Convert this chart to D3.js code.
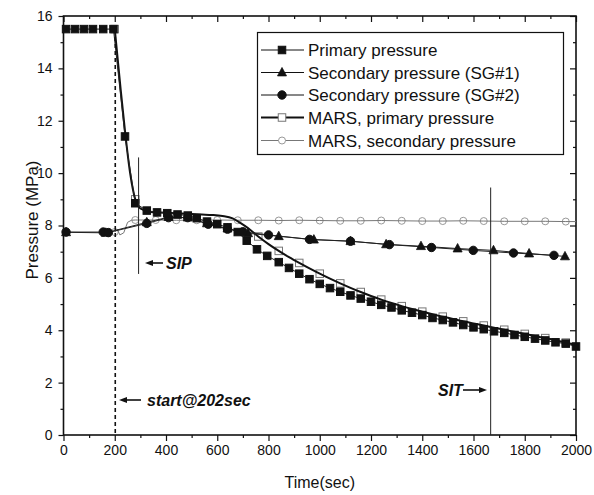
<!DOCTYPE html>
<html>
<head>
<meta charset="utf-8">
<script src="https://cdn.jsdelivr.net/npm/d3@7"></script>
<style>
  html, body { margin: 0; padding: 0; background: #fff; }
  svg { display: block; font-family: "Liberation Sans", Arial, sans-serif; }
</style>
</head>
<body>
<svg id="chart" width="594" height="495"></svg>
<script>
// Measured primary-side pressure (filled squares)
const primaryT = [10,45,80,115,155,195,240,280,325,365,405,445,485,520,560,600,640,680,715,755,795,840,880,920,960,1000,1040,1080,1120,1160,1200,1240,1280,1320,1360,1400,1440,1480,1520,1560,1600,1640,1680,1720,1760,1800,1840,1880,1920,1960,2000];
const primaryP = [15.5,15.5,15.5,15.5,15.5,15.5,11.4,8.85,8.57,8.5,8.47,8.42,8.38,8.28,8.15,8.05,7.93,7.75,7.42,7.09,6.84,6.6,6.38,6.16,5.95,5.77,5.61,5.47,5.33,5.21,5.09,4.97,4.87,4.76,4.67,4.58,4.47,4.39,4.30,4.20,4.11,4.04,3.96,3.90,3.82,3.75,3.68,3.61,3.54,3.49,3.38];

// Measured steam generator pressures
const sg1T = [10,165,325,410,485,560,640,720,840,977,1120,1259,1395,1538,1678,1817,1957];
const sg1P = [7.74,7.72,8.12,8.32,8.3,8.08,7.88,7.7,7.59,7.46,7.4,7.28,7.21,7.12,7.05,6.93,6.82];
const sg2T = [10,155,175,325,410,485,565,640,700,800,960,1120,1272,1436,1599,1756,1914];
const sg2P = [7.75,7.75,7.73,8.08,8.3,8.3,8.05,7.86,7.76,7.64,7.47,7.4,7.27,7.16,7.05,6.95,6.86];

// MARS calculation, primary pressure
const marsPT = [200,220,240,260,280,300,340,380,420,460,500,540,580,620,660,690,720,760,800,840,880,920,960,1000,1040,1080,1120,1160,1200,1240,1280,1320,1360,1400,1440,1480,1520,1560,1600,1640,1680,1720,1760,1800,1840,1880,1920,1960,2000];
const marsPP = [15.5,13.5,11.6,10.0,9.0,8.65,8.52,8.5,8.48,8.46,8.44,8.42,8.4,8.36,8.27,8.1,7.9,7.58,7.29,7.03,6.79,6.57,6.36,6.16,5.97,5.79,5.62,5.46,5.31,5.17,5.04,4.92,4.81,4.71,4.61,4.52,4.43,4.34,4.26,4.18,4.10,4.02,3.94,3.86,3.78,3.70,3.62,3.53,3.44];

// MARS calculation, secondary pressure
const marsST = [200,210,220,235,250,265,280,360,440,520,600,680,760,840,920,1000,1080,1160,1240,1320,1400,1480,1560,1640,1720,1800,1880,1960,2000];
const marsSP = [7.75,7.85,7.64,7.72,8.12,8.2,8.21,8.21,8.2,8.2,8.21,8.2,8.2,8.19,8.2,8.19,8.18,8.18,8.19,8.18,8.17,8.17,8.18,8.17,8.16,8.16,8.16,8.15,8.15];

const xTicks = [0,200,400,600,800,1000,1200,1400,1600,1800,2000];
const yTicks = [0,2,4,6,8,10,12,14,16];

const legendLabels = ["Primary pressure","Secondary pressure (SG#1)","Secondary pressure (SG#2)","MARS, primary pressure","MARS, secondary pressure"];

const svg = d3.select("#chart");
const L = 63.5, R = 576, T = 16, B = 435;
const x = d3.scaleLinear().domain([0, 2000]).range([L, R]);
const y = d3.scaleLinear().domain([0, 16]).range([B, T]);

const zip = (ts, ps) => ts.map((t, i) => ({t, p: ps[i]}));
const line = d3.line().x(d => x(d.t)).y(d => y(d.p));
const smooth = d3.line().x(d => x(d.t)).y(d => y(d.p)).curve(d3.curveMonotoneX);

const xMinor = d3.range(100, 2000, 200);
const yMinor = d3.range(1, 16, 2);

// axes: ticks outward on bottom/left, inward mirrors on top/right
function styleAxis(g) {
  g.select(".domain").remove();
  g.selectAll("line").attr("stroke", "#111").attr("stroke-width", 1.2);
  g.selectAll("text").attr("fill", "#111").style("font-size", "14px").style("font-family", "Liberation Sans, Arial, sans-serif");
}
svg.append("g").attr("transform", `translate(0,${B})`)
  .call(d3.axisBottom(x).tickValues(xTicks).tickSize(6).tickPadding(4).tickFormat(d3.format("d"))).call(styleAxis);
svg.append("g").attr("transform", `translate(0,${B})`)
  .call(d3.axisBottom(x).tickValues(xMinor).tickSize(3).tickFormat("")).call(styleAxis);
svg.append("g").attr("transform", `translate(${L},0)`)
  .call(d3.axisLeft(y).tickValues(yTicks).tickSize(5).tickPadding(6).tickFormat(d3.format("d"))).call(styleAxis);
svg.append("g").attr("transform", `translate(${L},0)`)
  .call(d3.axisLeft(y).tickValues(yMinor).tickSize(3).tickFormat("")).call(styleAxis);
svg.append("g").attr("transform", `translate(0,${T})`)
  .call(d3.axisTop(x).tickValues(xTicks).tickSize(-6).tickFormat("")).call(styleAxis);
svg.append("g").attr("transform", `translate(0,${T})`)
  .call(d3.axisTop(x).tickValues(xMinor).tickSize(-3).tickFormat("")).call(styleAxis);
svg.append("g").attr("transform", `translate(${R},0)`)
  .call(d3.axisRight(y).tickValues(yTicks).tickSize(-6).tickFormat("")).call(styleAxis);
svg.append("g").attr("transform", `translate(${R},0)`)
  .call(d3.axisRight(y).tickValues(yMinor).tickSize(-3).tickFormat("")).call(styleAxis);

// plot frame
svg.append("rect").attr("x", L).attr("y", T).attr("width", R - L).attr("height", B - T)
  .attr("fill", "none").attr("stroke", "#111").attr("stroke-width", 1.6);

// axis titles
svg.append("text").attr("x", (L + R) / 2).attr("y", 488).attr("text-anchor", "middle")
  .style("font-size", "16px").attr("fill", "#111").text("Time(sec)");
svg.append("text").attr("transform", "translate(38,220) rotate(-90)").attr("text-anchor", "middle")
  .style("font-size", "17px").attr("fill", "#111").text("Pressure (MPa)");

const plot = svg.append("g");

// marker helpers
function square(g, cx, cy, s, fill, stroke) {
  g.append("rect").attr("x", cx - s / 2).attr("y", cy - s / 2).attr("width", s).attr("height", s)
    .attr("fill", fill).attr("stroke", stroke).attr("stroke-width", 1);
}
function circle(g, cx, cy, r, fill, stroke) {
  g.append("circle").attr("cx", cx).attr("cy", cy).attr("r", r).attr("fill", fill).attr("stroke", stroke).attr("stroke-width", 1);
}
function triangle(g, cx, cy, s) {
  const h = s * 0.9;
  g.append("path").attr("d", `M${cx},${cy - h * 0.62} L${cx + s / 2},${cy + h * 0.42} L${cx - s / 2},${cy + h * 0.42} Z`)
    .attr("fill", "#111").attr("stroke", "#111").attr("stroke-width", 0.8);
}
const onMarkerGrid = d => (d.t - 200) % 80 === 0;

// MARS secondary
const marsS = zip(marsST, marsSP);
marsS.filter(onMarkerGrid).forEach(d => circle(plot, x(d.t), y(d.p), 3.5, "#fff", "#999"));
plot.append("path").datum(marsS).attr("d", line).attr("fill", "none").attr("stroke", "#777").attr("stroke-width", 1);

// MARS primary: hollow markers beneath a continuous thick curve
const marsP = zip(marsPT, marsPP);
marsP.filter(onMarkerGrid).forEach(d => square(plot, x(d.t), y(d.p), 7.5, "#fff", "#777"));
plot.append("path").datum(marsP).attr("d", smooth).attr("fill", "none").attr("stroke", "#111").attr("stroke-width", 2);

// measured SG pressures
const sg1 = zip(sg1T, sg1P), sg2 = zip(sg2T, sg2P);
plot.append("path").datum(sg1).attr("d", line).attr("fill", "none").attr("stroke", "#222").attr("stroke-width", 1);
plot.append("path").datum(sg2).attr("d", line).attr("fill", "none").attr("stroke", "#222").attr("stroke-width", 1);
sg1.forEach(d => triangle(plot, x(d.t), y(d.p), 9));
sg2.forEach(d => circle(plot, x(d.t), y(d.p), 4.2, "#111", "#111"));

// measured primary pressure
const prim = zip(primaryT, primaryP);
plot.append("path").datum(prim).attr("d", line).attr("fill", "none").attr("stroke", "#222").attr("stroke-width", 1);
prim.forEach(d => square(plot, x(d.t), y(d.p), 7.5, "#111", "#111"));

// event markers
plot.append("line").attr("x1", x(202)).attr("x2", x(202)).attr("y1", y(15.2)).attr("y2", y(0))
  .attr("stroke", "#111").attr("stroke-width", 1.6).attr("stroke-dasharray", "4,3");
plot.append("line").attr("x1", x(293)).attr("x2", x(293)).attr("y1", y(10.6)).attr("y2", y(6.15))
  .attr("stroke", "#222").attr("stroke-width", 1);
plot.append("line").attr("x1", x(1667)).attr("x2", x(1667)).attr("y1", y(9.45)).attr("y2", y(0))
  .attr("stroke", "#222").attr("stroke-width", 1);

// annotations
function arrow(x1, x2, yy) {
  const dir = Math.sign(x2 - x1);
  svg.append("line").attr("x1", x1).attr("x2", x2 - dir * 5).attr("y1", yy).attr("y2", yy)
    .attr("stroke", "#111").attr("stroke-width", 1.6);
  svg.append("path").attr("d", `M${x2},${yy} L${x2 - dir * 8},${yy - 3} L${x2 - dir * 8},${yy + 3} Z`).attr("fill", "#111");
}
const ann = (tx, ty, s) => svg.append("text").attr("x", tx).attr("y", ty).attr("fill", "#111")
  .style("font-size", "16px").style("font-weight", "bold").style("font-style", "italic").text(s);
arrow(163, 145, 263); ann(166, 269, "SIP");
arrow(141, 119, 400); ann(147, 406, "start@202sec");
arrow(463, 487, 390); ann(438, 396, "SIT");

// legend
const lg = svg.append("g");
lg.append("rect").attr("x", 257.5).attr("y", 32.5).attr("width", 306).attr("height", 122)
  .attr("fill", "#fff").attr("stroke", "#111").attr("stroke-width", 1.2);
const rowsY = [50, 72.5, 95, 117.5, 140.5];
legendLabels.forEach((lab, i) => {
  const yy = rowsY[i];
  const isMarsP = i === 3, isMarsS = i === 4;
  lg.append("line").attr("x1", 261).attr("x2", 304).attr("y1", yy).attr("y2", yy)
    .attr("stroke", isMarsS ? "#777" : "#111").attr("stroke-width", isMarsP ? 2 : 1);
  if (i === 0) square(lg, 282, yy, 7.5, "#111", "#111");
  if (i === 1) triangle(lg, 282, yy, 9);
  if (i === 2) circle(lg, 282, yy, 4.2, "#111", "#111");
  if (isMarsP) square(lg, 282, yy, 7.5, "#fff", "#777");
  if (isMarsS) circle(lg, 282, yy, 3.5, "#fff", "#999");
  lg.append("text").attr("x", 308).attr("y", yy + 6).attr("fill", "#111").style("font-size", "17px").text(lab);
});
</script>
</body>
</html>
